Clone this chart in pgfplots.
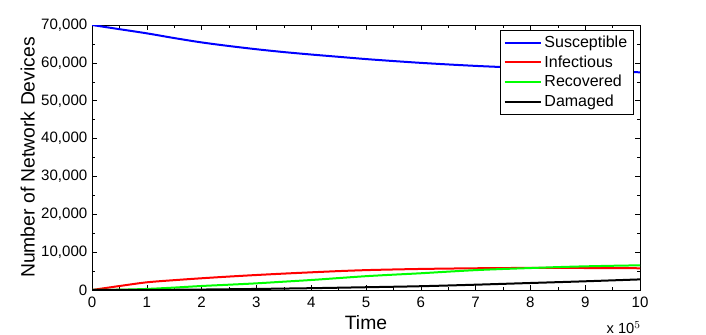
\documentclass[border=0pt]{standalone}
\usepackage{pgfplots}
\pgfplotsset{compat=1.18}
\usepackage{fontspec}
\setmainfont{Liberation Sans}
\begin{document}
\begin{tikzpicture}[x=0.75pt,y=0.75pt]
\begin{axis}[
  at={(0,0)}, anchor=south west,
  scale only axis,
  width=411pt, height=198.75pt,
  xmin=0, xmax=10, ymin=0, ymax=70000,
  xtick={0,1,...,10},
  ytick={0,10000,...,70000},
  minor x tick num=1,
  minor y tick num=1,
  tick align=inside,
  major tick length=4pt,
  minor tick length=2pt,
  tick style={black, thin},
  axis line style={black, thin},
  /pgf/number format/assume math mode=true,
  /pgf/number format/1000 sep={,},
  scaled y ticks=false,
  tick label style={font=\fontsize{11.3}{13}\selectfont},
  yticklabel style={xshift=0pt},
  xticklabel style={yshift=-1.5pt},
  xlabel={Time},
  ylabel={Number of Network Devices},
  label style={font=\fontsize{14.5}{16}\selectfont},
  xlabel style={yshift=1pt},
  ylabel style={yshift=-2pt},
  legend style={at={(0.988,0.982)}, anchor=north east, draw=black, thin,
    font=\fontsize{12}{13}\selectfont, row sep=0.5pt, inner sep=2.5pt},
  legend cell align=left,
  legend image code/.code={\draw[line width=1.5pt] (0cm,0cm) -- (0.95cm,0cm);},
  every axis plot/.append style={line width=1.5pt, smooth},
]
\addplot[color={rgb,255:red,0;green,0;blue,255}] coordinates {
(0,70000) (0.5,68900) (1,67800) (1.5,66550) (2,65400) (2.5,64450) (3,63600) (3.5,62850) (4,62200) (4.5,61600) (5,61000) (5.5,60480) (6,60000) (6.5,59580) (7,59200) (7.5,58880) (8,58600) (8.5,58300) (9,58000) (9.5,57750) (10,57500)};
\addlegendentry{Susceptible}
\addplot[color={rgb,255:red,255;green,0;blue,0}] coordinates {
(0,0) (0.5,1050) (1,2030) (1.5,2600) (2,3100) (2.5,3550) (3,3960) (3.5,4330) (4,4670) (4.5,4990) (5,5250) (5.5,5420) (6,5560) (6.5,5660) (7,5740) (7.5,5800) (8,5830) (8.5,5830) (9,5810) (9.5,5780) (10,5740)};
\addlegendentry{Infectious}
\addplot[color={rgb,255:red,0;green,255;blue,0}] coordinates {
(0,0) (0.5,80) (1,280) (1.5,640) (2,1060) (2.5,1400) (3,1760) (3.5,2200) (4,2640) (4.5,3150) (5,3650) (5.5,4050) (6,4420) (6.5,4850) (7,5250) (7.5,5550) (8,5800) (8.5,6050) (9,6250) (9.5,6400) (10,6520)};
\addlegendentry{Recovered}
\addplot[color=black] coordinates {
(0,0) (1,20) (2,120) (3,280) (4,480) (5,730) (6,1000) (7,1400) (8,1850) (9,2300) (10,2800)};
\addlegendentry{Damaged}
\end{axis}
\node[anchor=north east, font=\fontsize{11}{12}\selectfont, inner sep=0pt] at (549,-31) {x 10$^{5}$};
\useasboundingbox (-92,-45) rectangle (614,265+25);
\end{tikzpicture}
\end{document}
